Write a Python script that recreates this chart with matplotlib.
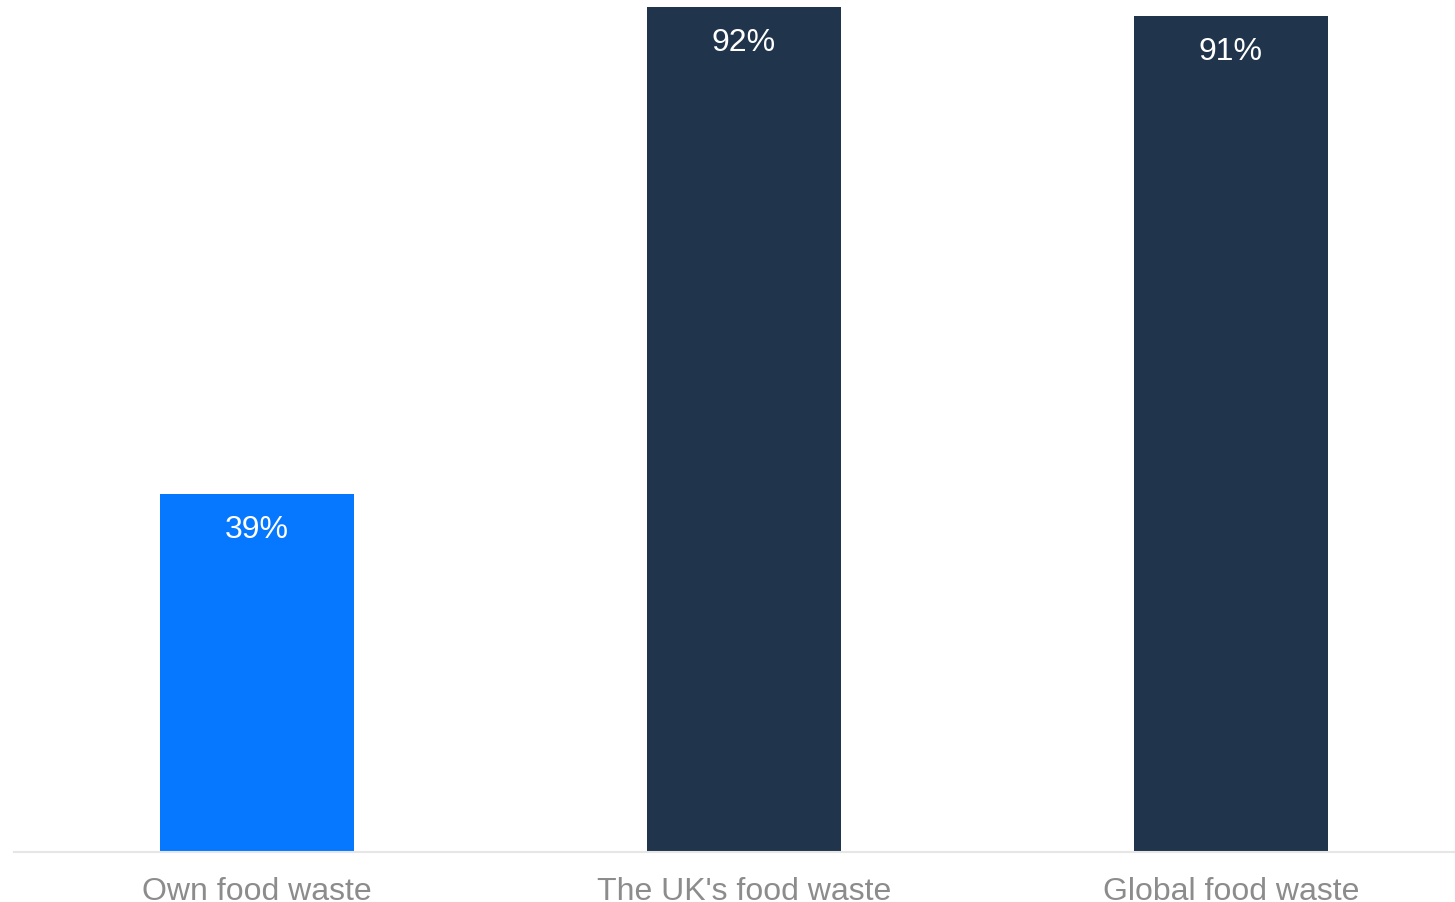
import matplotlib.pyplot as plt

categories = ["Own food waste", "The UK's food waste", "Global food waste"]
values = [39, 92, 91]
colors = ["#0677ff", "#20344c", "#20344c"]

plt.rcParams["font.family"] = ["Liberation Sans", "DejaVu Sans"]

fig = plt.figure(figsize=(14.55, 9.03), dpi=100)
ax = fig.add_axes((14 / 1455, 50 / 903, 1 - 14 / 1455, 847 / 903))

x = range(len(categories))
bars = ax.bar(x, values, width=0.4, color=colors, zorder=2)

for bar, v in zip(bars, values):
    ax.annotate(f"{v}%", (bar.get_x() + bar.get_width() / 2, v),
                xytext=(0, -25), textcoords="offset points",
                ha="center", va="center", color="white", fontsize=23)

ax.set_xlim(-0.499, 2.46)
ax.set_ylim(0, 92 * 847 / 845)
ax.set_xticks(list(x), categories, fontsize=23, color="#8c8c8c")
ax.tick_params(axis="x", length=0, pad=17)
ax.set_yticks([])
for side in ["top", "right", "left"]:
    ax.spines[side].set_visible(False)
ax.spines["bottom"].set_color("#e6e6e6")
ax.spines["bottom"].set_linewidth(1.5)

fig.savefig("out.png", dpi=100)
